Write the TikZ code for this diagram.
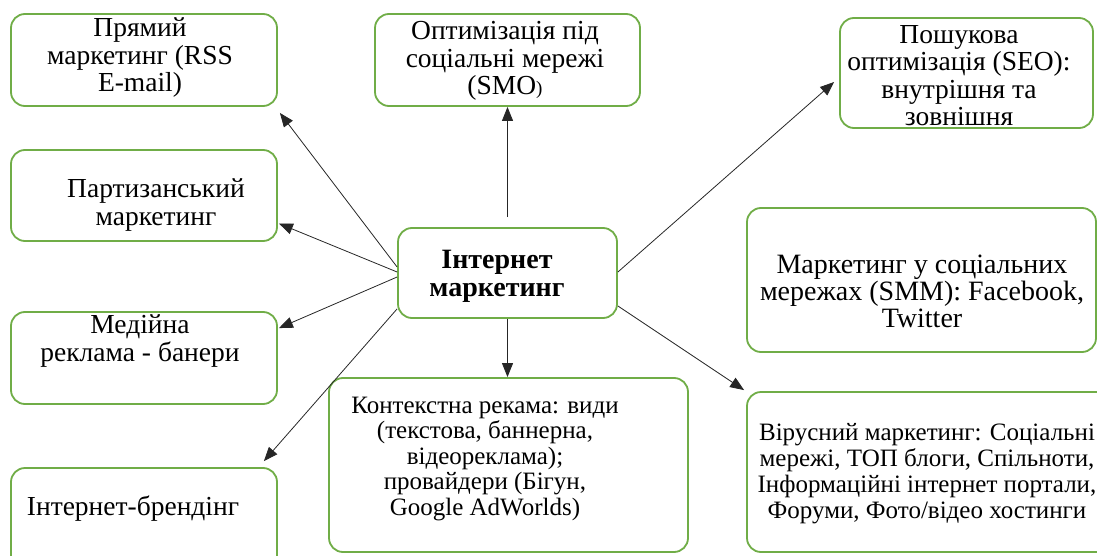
\documentclass[tikz,border=0pt]{standalone}
\usepackage{fontspec}
\setmainfont{Liberation Serif}
\newfontfamily\tnr{Liberation Serif}
\usetikzlibrary{arrows.meta,calc}
\definecolor{boxgreen}{RGB}{112,173,71}
\begin{document}
\begin{tikzpicture}[x=1pt,y=-1pt,
  box/.style={draw=boxgreen,line width=1.8pt,rounded corners=14pt,inner sep=0pt},
  txt/.style={align=center,font=\tnr\fontsize{27.5}{27.5}\selectfont,inner sep=0pt},
  smalltxt/.style={align=center,font=\tnr\fontsize{25}{25.5}\selectfont,inner sep=0pt},
  arr/.style={-{Triangle[length=14pt,width=11pt]},line width=0.8pt,black!85}]
\useasboundingbox (0,0) rectangle (1097,556);
\clip (0,0) rectangle (1097,556);
% boxes
\node[box,minimum width=266pt,minimum height=92pt] (b1) at (144,60) {};
\node[box,minimum width=266pt,minimum height=91pt] (b2) at (144,195.5) {};
\node[box,minimum width=266pt,minimum height=92pt] (b3) at (144,358) {};
\node[box,minimum width=266pt,minimum height=110pt] (b4) at (144,523) {};
\node[box,minimum width=265pt,minimum height=92pt] (smo) at (507.5,60) {};
\node[box,minimum width=253pt,minimum height=110pt] (seo) at (966.5,73) {};
\node[box,minimum width=219pt,minimum height=90pt] (c) at (507.5,273) {};
\node[box,minimum width=359pt,minimum height=174pt] (ctx) at (508.5,465) {};
\node[box,minimum width=349pt,minimum height=144pt] (smm) at (921.5,280) {};
\node[box,minimum width=363pt,minimum height=160pt] (vir) at (928.5,472) {};
% texts
\node[txt] (t1) at (140,58) {Прямий\\маркетинг (RSS\\E-mail)};
\node[txt] (t2) at (156,205) {Партизанський\\маркетинг};
\node[txt] (t3) at (140,341) {Медійна\\реклама - банери};
\node[txt] (t4) at (133,509) {Інтернет-брендінг};
\node[txt] (tsmo) at (505,61) {Оптимізація під\\соціальні мережі\\(SMO{\fontsize{19}{20}\selectfont)}};
\node[txt] (tseo) at (959,75.5) {Пошукова\\оптимізація (SEO):\\внутрішня та\\зовнішня};
\node[txt,font=\tnr\fontsize{28}{28}\selectfont\bfseries] (tc) at (497,276) {Інтернет\\маркетинг};
\node[smalltxt] (tctx) at (485,459) {Контекстна рекама: види\\(текстова, баннерна,\\відеореклама);\\провайдери (Бігун,\\Google AdWorlds)};
\node[txt,font=\tnr\fontsize{28}{27}\selectfont] (tsmm) at (922,291) {Маркетинг у соціальних\\мережах (SMM): Facebook,\\Twitter};
\node[smalltxt,font=\tnr\fontsize{25}{26}\selectfont] (tvir) at (927,474) {Вірусний маркетинг: Соціальні\\мережі, ТОП блоги, Спільноти,\\Інформаційні інтернет портали,\\Форуми, Фото/відео хостинги};
% arrows
\draw[arr] ($(c.west)+(0,-6)$) -- ($(b1.south east)+(2,6)$);
\draw[arr] ($(c.west)+(0,-1)$) -- ($(b2.east)+(1,28)$);
\draw[arr] ($(c.west)+(0,4)$) -- ($(b3.north east)+(1,17)$);
\draw[arr] ($(c.south west)+(0,-10)$) -- ($(b4.north east)+(-14,-6)$);
\draw[arr] ($(c.north)+(0,-10)$) -- (smo.south);
\draw[arr] (c.south) -- (c.south |- ctx.north);
\draw[arr] ($(c.east)+(0,-1)$) -- ($(seo.west)+(-5,9)$);
\draw[arr] ($(c.east)+(0,33)$) -- ($(vir.north west)+(-2,-1)$);
\end{tikzpicture}
\end{document}
